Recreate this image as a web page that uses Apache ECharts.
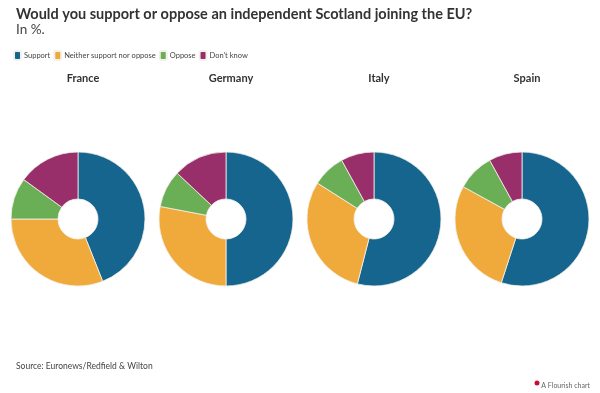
<!DOCTYPE html>
<html><head><meta charset="utf-8">
<script src="https://cdn.jsdelivr.net/npm/echarts@6/dist/echarts.min.js"></script>
<style>html,body{margin:0;padding:0;background:#fff}#c{width:600px;height:393px}</style>
</head><body><div id="c"></div>
<script>
const countries = ['France', 'Germany', 'Italy', 'Spain'];
const categories = ['Support', 'Neither support nor oppose', 'Oppose', "Don't know"];
const support = [44, 50, 54, 55];
const neither = [31, 28, 30, 28];
const oppose = [10, 9, 8, 9];
const dontKnow = [15, 13, 8, 8];
const colors = ['#15658f', '#f0aa3c', '#6aae55', '#982f6b'];

const chart = echarts.init(document.getElementById('c'));
const centersX = [78, 226, 374, 522];
const FONT = 'Lato';
const series = countries.map((c, i) => ({
  type: 'pie',
  name: c,
  center: [centersX[i], 219],
  radius: [20, 67],
  startAngle: 90,
  clockwise: true,
  label: { show: false },
  labelLine: { show: false },
  emphasis: { disabled: true },
  itemStyle: { borderColor: '#f4f1ea', borderWidth: 0.8 },
  data: categories.map((cat, k) => ({
    name: cat,
    value: [support, neither, oppose, dontKnow][k][i]
  }))
}));

const titles = [
  { text: 'Would you support or oppose an independent Scotland joining the EU?', left: 11, top: 2,
    textStyle: { fontFamily: FONT, fontWeight: 'bold', fontSize: 14.5, color: '#333' } },
  { text: 'In %.', left: 11, top: 18,
    textStyle: { fontFamily: FONT, fontWeight: 'normal', fontSize: 13.5, color: '#444' } },
  { text: 'Source: Euronews/Redfield & Wilton', left: 11, top: 357,
    textStyle: { fontFamily: FONT, fontWeight: 'normal', fontSize: 8.5, color: '#444' } },
  { text: 'A Flourish chart', right: 5, top: 377,
    textStyle: { fontFamily: FONT, fontWeight: 'normal', fontSize: 7, color: '#666' } }
].concat(countries.map((c, i) => ({
  text: c, left: centersX[i], top: 68, textAlign: 'center',
  textStyle: { fontFamily: FONT, fontWeight: 'bold', fontSize: 11, color: '#333' }
})));

chart.setOption({
  animation: false,
  color: colors,
  title: titles,
  legend: {
    data: categories,
    left: 8, top: 45,
    icon: 'roundRect',
    itemWidth: 7, itemHeight: 9, itemGap: 3,
    textStyle: { fontFamily: FONT, fontSize: 7.5, color: '#444', padding: [0, 0, 0, -2] },
    selectedMode: false
  },
  graphic: [{
    type: 'circle', shape: { cx: 537, cy: 383, r: 2.5 }, style: { fill: '#c8102e' }
  }],
  series: series
});
</script></body></html>
